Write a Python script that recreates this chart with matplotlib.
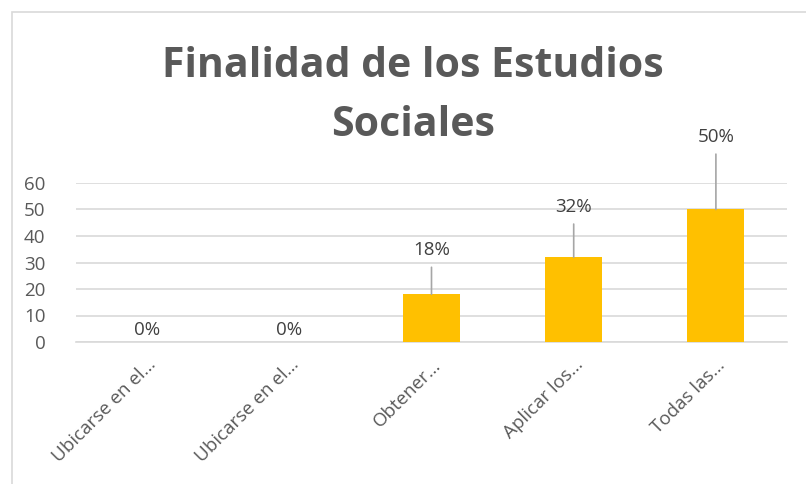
import matplotlib.pyplot as plt
from matplotlib.patches import Rectangle

# datos
categorias = ['Ubicarse en el…', 'Ubicarse en el…', 'Obtener…', 'Aplicar los…', 'Todas las…']
valores = [0, 0, 18, 32, 50]
etiquetas = ['0%', '0%', '18%', '32%', '50%']
pos_etiqueta = [4.5, 4.5, 34.7, 51.0, 77.4]

gris = '#595959'
amarillo = '#FFC000'

plt.rcParams['font.family'] = ['Open Sans', 'DejaVu Sans']

fig = plt.figure(figsize=(8.06, 4.84), dpi=100)
ax = fig.add_axes([76 / 806, 1 - 342 / 484, (787 - 76) / 806, (342 - 183) / 484])

x = range(len(categorias))
ax.bar(x, valores, width=0.4, color=amarillo, zorder=3)

ax.set_ylim(0, 60)
ax.set_xlim(-0.5, len(categorias) - 0.5)
ax.set_yticks(range(0, 61, 10))
ax.yaxis.grid(True, color='#D9D9D9', linewidth=1.2, zorder=0)
ax.set_axisbelow(True)
for s in ['top', 'right', 'left']:
    ax.spines[s].set_visible(False)
ax.spines['bottom'].set_color('#D9D9D9')
ax.spines['bottom'].set_linewidth(1.2)
ax.tick_params(axis='both', length=0, colors=gris, labelsize=13.5)
ax.tick_params(axis='y', pad=22)
ax.set_xticks(list(x))
ax.set_xticklabels(categorias, rotation=45, ha='right', rotation_mode='anchor')
ax.tick_params(axis='x', pad=10)

for i, (v, lab, ly) in enumerate(zip(valores, etiquetas, pos_etiqueta)):
    ax.text(i, ly, lab, ha='center', va='center', fontsize=13.5, color='#404040',
            clip_on=False)
    if v > 0:
        ax.annotate('', xy=(i, v), xytext=(i, ly - 6.5),
                    arrowprops=dict(arrowstyle='-', color='#A6A6A6', lw=1.2,
                                    shrinkA=0, shrinkB=0),
                    annotation_clip=False)

fig.text(413 / 806, 1 - 96 / 484, 'Finalidad de los Estudios\nSociales', ha='center',
         va='center', fontsize=29.5, fontweight='bold', color=gris, linespacing=1.6)

# marco del gráfico
fig.patches.append(Rectangle((12 / 806, -0.1), 1.1, 1 - 12 / 484 + 0.1,
                             transform=fig.transFigure, fill=False,
                             edgecolor='#D9D9D9', linewidth=1.2))

fig.savefig('out.png', dpi=100)
